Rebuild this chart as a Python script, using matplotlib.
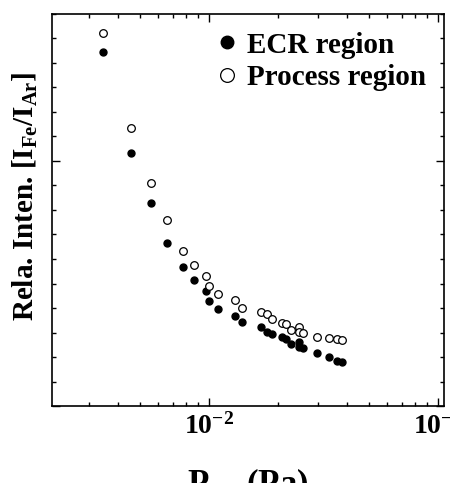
import numpy as np
import matplotlib.pyplot as plt
from matplotlib.ticker import MultipleLocator, LogLocator, NullFormatter

plt.rcParams['font.family'] = 'Liberation Serif'
plt.rcParams['font.weight'] = 'bold'
plt.rcParams['mathtext.fontset'] = 'custom'
plt.rcParams['mathtext.rm'] = 'Liberation Serif:bold'
plt.rcParams['mathtext.it'] = 'Liberation Serif:bold'
plt.rcParams['mathtext.bf'] = 'Liberation Serif:bold'

# pressure (Pa), shared by both series
p_ar = [3.47e-3, 4.59e-3, 5.58e-3, 6.6e-3, 7.75e-3, 8.66e-3, 9.73e-3, 1.003e-2,
        1.10e-2, 1.30e-2, 1.40e-2, 1.69e-2, 1.79e-2, 1.89e-2, 2.09e-2, 2.17e-2,
        2.28e-2, 2.47e-2, 2.48e-2, 2.58e-2, 2.97e-2, 3.36e-2, 3.64e-2, 3.83e-2]
ecr = [14.46, 10.33, 8.29, 6.65, 5.69, 5.13, 4.69, 4.29,
       3.95, 3.67, 3.44, 3.21, 3.02, 2.93, 2.80, 2.72,
       2.52, 2.63, 2.42, 2.35, 2.15, 1.99, 1.85, 1.78]
process = [15.22, 11.36, 9.09, 7.59, 6.31, 5.76, 5.32, 4.90,
           4.57, 4.33, 4.00, 3.85, 3.74, 3.54, 3.40, 3.33,
           3.10, 3.24, 3.03, 2.98, 2.80, 2.78, 2.73, 2.69]

fig = plt.figure(figsize=(4.5, 4.83), dpi=100)
ax = fig.add_axes([52/450, 1 - 406/483, 392/450, 392/483])

ax.plot(p_ar, ecr, 'o', ms=5, mfc='black', mec='black', label='ECR region')
ax.plot(p_ar, process, 'o', ms=5.5, mfc='white', mec='black', mew=0.9,
        label='Process region')

ax.set_xscale('log')
ax.set_xlim(2.07e-3, 0.1066)
ax.set_ylim(0, 16)
ax.xaxis.set_major_locator(LogLocator(base=10))
ax.xaxis.set_minor_locator(LogLocator(base=10, subs=np.arange(2, 10)))
ax.xaxis.set_minor_formatter(NullFormatter())
ax.yaxis.set_major_locator(MultipleLocator(10))
ax.yaxis.set_minor_locator(MultipleLocator(1))
ax.set_yticklabels([])
ax.tick_params(which='both', direction='in', top=True, right=True, width=1)
ax.tick_params(which='major', length=6, labelsize=20, pad=5)
ax.tick_params(which='minor', length=3)
for s in ax.spines.values():
    s.set_linewidth(1.2)

ax.set_xlabel('P$_{Ar}$ (Pa)', fontsize=25, fontweight='bold')
ax.xaxis.set_label_coords(0.5, -0.155, transform=ax.transAxes)
ax.xaxis.label.set_va('top')
ax.set_ylabel('Rela. Inten. [I$_{Fe}$/I$_{Ar}$]', fontsize=21, fontweight='bold')
ax.yaxis.set_label_coords(-0.068, 0.536)
ax.yaxis.label.set_va('center')
ax.yaxis.label.set_ha('center')

ax.legend(loc='upper right', frameon=False, fontsize=21, handlelength=0.8,
          handletextpad=0.3, borderaxespad=0.0, labelspacing=0.2,
          markerscale=1.8, bbox_to_anchor=(0.985, 0.985))

fig.savefig('out.png', dpi=100)
